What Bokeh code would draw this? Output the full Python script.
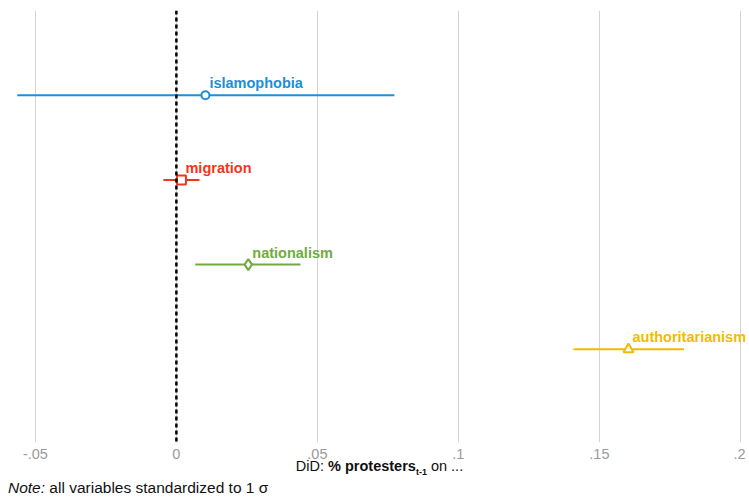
from bokeh.plotting import figure
from bokeh.models import Span, ColumnDataSource, FixedTicker, Div
from bokeh.layouts import column
from bokeh.core.properties import value
from bokeh.embed import file_html
from bokeh.resources import INLINE

# Data
names = ["islamophobia", "migration", "nationalism", "authoritarianism"]
estimates = [0.0103, 0.0018, 0.0255, 0.1603]
ci_low = [-0.0564, -0.0046, 0.0067, 0.1408]
ci_high = [0.0773, 0.0082, 0.0440, 0.1800]
ypos = [4, 3, 2, 1]
colors = ["#1b8fd7", "#f2361c", "#70ab3f", "#f4b904"]
markers = ["circle", "square", "diamond", "triangle"]
marker_sizes = [8, 9, 11, 10]
tick_values = [-0.05, 0, 0.05, 0.1, 0.15, 0.2]
tick_labels = ["-.05", "0", ".05", ".1", ".15", ".2"]
x_title_html = "DiD: <b>% protesters</b><sub style='font-size:9px;font-weight:bold'>t-1</sub> on ..."
note_html = "<i>Note:</i> all variables standardized to 1 \u03c3"

FONT = "Liberation Sans"

p = figure(width=745, height=462, output_backend="svg", toolbar_location=None,
           x_range=(-0.0574, 0.2018), y_range=(-0.1, 5.0),
           min_border_left=14, min_border_right=0, min_border_top=10,
           min_border_bottom=20)
p.outline_line_color = None
p.background_fill_color = "white"
p.border_fill_color = "white"

p.yaxis.visible = False
p.ygrid.grid_line_color = None
p.xgrid.grid_line_color = "#d4d4d4"
p.xgrid.grid_line_width = 1
p.xaxis.ticker = FixedTicker(ticks=tick_values)
p.xaxis.major_label_overrides = {v: l for v, l in zip(tick_values, tick_labels)}
p.xaxis.axis_line_color = None
p.xaxis.major_tick_line_color = None
p.xaxis.minor_tick_line_color = None
p.xaxis.major_label_text_font = FONT
p.xaxis.major_label_text_font_size = "14.5px"
p.xaxis.major_label_text_color = "#9a9a9a"
p.xaxis.major_label_standoff = 0

zero = Span(location=0, dimension="height", line_color="black", line_width=2.5,
            line_dash="4 3")
p.add_layout(zero)

for i in range(len(names)):
    src = ColumnDataSource(dict(x0=[ci_low[i]], x1=[ci_high[i]], y=[ypos[i]],
                                x=[estimates[i]], t=[names[i]]))
    p.segment(x0="x0", x1="x1", y0="y", y1="y", source=src,
              line_color=colors[i], line_width=2)
    p.scatter(x="x", y="y", source=src, marker=markers[i], size=marker_sizes[i],
              fill_color="white", line_color=colors[i], line_width=2)
    p.text(x="x", y="y", text="t", source=src, x_offset=4, y_offset=-4,
           text_font=value(FONT), text_font_style="bold", text_font_size="14.5px",
           text_color=colors[i], text_baseline="bottom", text_align="left")

div_html = (
    "<div style=\"position:relative;width:745px;height:37px;"
    "font-family:'Liberation Sans';color:#111111;\">"
    "<div style=\"position:absolute;left:9px;width:731px;top:-9px;text-align:center;"
    "font-size:14.5px;line-height:16px;white-space:nowrap;\">" + x_title_html + "</div>"
    "<div style=\"position:absolute;left:3px;top:12px;font-size:15.5px;"
    "line-height:17px;white-space:nowrap;\">" + note_html + "</div>"
    "</div>"
)
d = Div(text=div_html, width=745, height=37)

layout = column(p, d, spacing=0)
open("out.html", "w").write(file_html(layout, INLINE))
